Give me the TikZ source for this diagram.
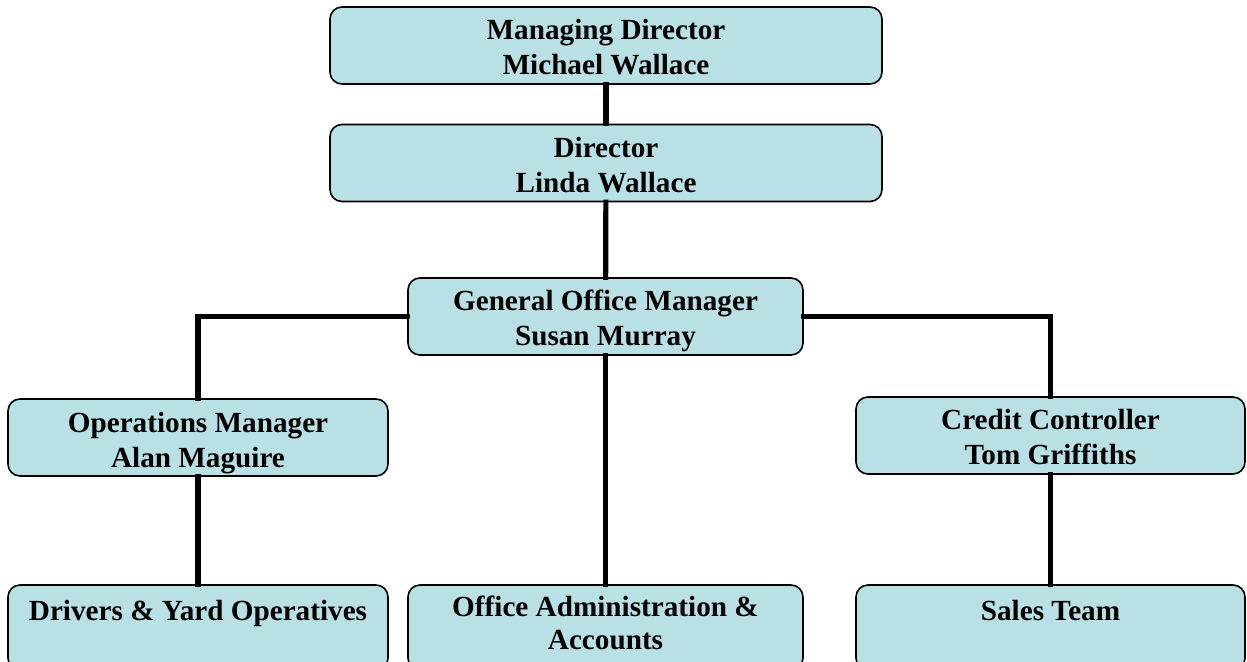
\documentclass[tikz,border=0pt]{standalone}
\usepackage{fontspec}
\setmainfont{Liberation Serif}
\usepackage{tikz}
\usetikzlibrary{positioning,calc}

\definecolor{boxblue}{RGB}{185,224,228}

\begin{document}
\begin{tikzpicture}[x=0.5pt,y=-0.5pt,
  staff node/.style={rectangle,rounded corners=6pt,draw=black,line width=0.8pt,
    fill=boxblue,align=center,minimum height=38.5pt,inner sep=1pt,
    text height=33pt,text depth=3.5pt,
    font=\bfseries\fontsize{14.6}{17.5}\selectfont},
  team node/.style={staff node,minimum height=42.5pt,text height=31pt},
  link/.style={line width=2.6pt,line cap=rect}]

  \useasboundingbox (0,0) rectangle (1247,662);

  \node[staff node,minimum width=276pt] (md) at (606,45.5) {Managing Director\\Michael Wallace};
  \node[staff node,minimum width=276pt] (dir) at (606,163) {Director\\Linda Wallace};
  \node[staff node,minimum width=197.5pt] (gom) at (605.5,316.5) {General Office Manager\\Susan Murray};
  \node[staff node,minimum width=190pt] (ops) at (198,437.5) {Operations Manager\\Alan Maguire};
  \node[staff node,minimum width=194.5pt] (cc) at (1050.5,435.5) {Credit Controller\\Tom Griffiths};

  % bottom row runs off the page edge
  \node[team node,minimum width=190pt] (drv) at (198,627.5) {Drivers \& Yard Operatives\\\mbox{}};
  \node[team node,minimum width=197.5pt,text height=25pt,
    font=\bfseries\fontsize{14.6}{16.5}\selectfont] (adm) at (605.5,627.5) {Office Administration \&\\Accounts};
  \node[team node,minimum width=194.5pt] (sal) at (1050.5,627.5) {Sales Team\\\mbox{}};

  \path[link]
    (md) edge (dir)
    (dir) edge (gom)
    (gom) edge (adm)
    (ops) edge (drv)
    (cc) edge (sal);

  \draw[link] (gom.west) -| (ops.north);
  \draw[link] (gom.east) -| (cc.north);
\end{tikzpicture}
\end{document}
